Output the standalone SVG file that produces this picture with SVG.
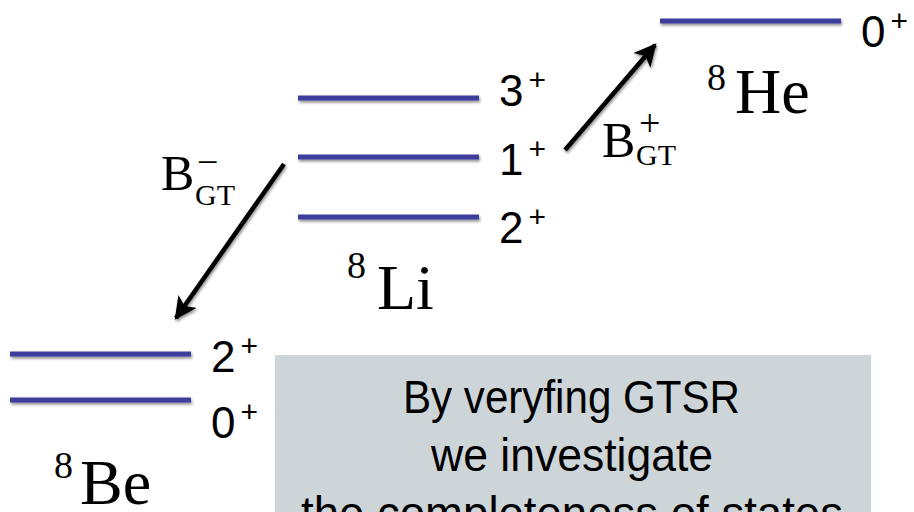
<svg xmlns="http://www.w3.org/2000/svg" width="914" height="512" viewBox="0 0 914 512">
<defs>
<filter id="sh" filterUnits="userSpaceOnUse" x="0" y="0" width="914" height="512">
<feGaussianBlur in="SourceAlpha" stdDeviation="1.5"/>
<feOffset dx="1" dy="2" result="b"/>
<feComponentTransfer><feFuncA type="linear" slope="0.45"/></feComponentTransfer>
<feMerge><feMergeNode/><feMergeNode in="SourceGraphic"/></feMerge>
</filter>
<marker id="ah" viewBox="0 0 10 10" refX="9" refY="5" markerWidth="5" markerHeight="5" orient="auto" markerUnits="strokeWidth">
<path d="M0,0 L10,5 L0,10 L2.5,5 z" fill="#000"/>
</marker>
<style>
.lvl{stroke:#3c3c9e;stroke-width:5;filter:url(#sh)}
.sp{font-family:"Liberation Sans","DejaVu Sans",sans-serif;font-size:44px;fill:#000}
.sup{font-size:30px}
.nuc{font-family:"Liberation Serif","DejaVu Serif",serif;font-size:64px;fill:#000}
.nsup{font-family:"Liberation Serif","DejaVu Serif",serif;font-size:38px;fill:#000}
.bl{font-family:"Liberation Serif","DejaVu Serif",serif;font-size:50px;fill:#000}
.bs{font-family:"Liberation Serif","DejaVu Serif",serif;font-size:30px;fill:#000}
.bp{font-family:"Liberation Serif","DejaVu Serif",serif;font-size:38px;fill:#000}
.arr{stroke:#000;stroke-width:4.5;fill:none;marker-end:url(#ah);filter:url(#sh)}
.box{fill:#cdd5d8}
.bt{font-family:"Liberation Sans","DejaVu Sans",sans-serif;font-size:46px;fill:#000}
</style>
</defs>

<g id="Li8">
<line class="lvl" x1="298" y1="98" x2="479" y2="98"/>
<line class="lvl" x1="298" y1="157" x2="479" y2="157"/>
<line class="lvl" x1="298" y1="217" x2="479" y2="217"/>
<text class="sp" x="499" y="106">3<tspan class="sup" dx="5" dy="-16">+</tspan></text>
<text class="sp" x="499" y="175">1<tspan class="sup" dx="5" dy="-16">+</tspan></text>
<text class="sp" x="499" y="243">2<tspan class="sup" dx="5" dy="-16">+</tspan></text>
<text class="nsup" x="347" y="278">8</text>
<text class="nuc" x="377" y="309">Li</text>
</g>

<g id="He8">
<line class="lvl" x1="660" y1="21" x2="841" y2="21"/>
<text class="sp" x="861" y="47">0<tspan class="sup" dx="5" dy="-16">+</tspan></text>
<text class="nsup" x="707" y="90">8</text>
<text class="nuc" x="735" y="113">He</text>
</g>

<g id="Be8">
<line class="lvl" x1="10" y1="354" x2="191" y2="354"/>
<line class="lvl" x1="10" y1="400" x2="191" y2="400"/>
<text class="sp" x="211" y="372">2<tspan class="sup" dx="5" dy="-16">+</tspan></text>
<text class="sp" x="211" y="438">0<tspan class="sup" dx="5" dy="-16">+</tspan></text>
<text class="nsup" x="54" y="478">8</text>
<text class="nuc" x="80" y="504">Be</text>
</g>

<g id="connectors">
<line class="arr" x1="284" y1="164" x2="176" y2="318"/>
<line class="arr" x1="565" y1="150" x2="655" y2="45"/>
<text class="bl" x="161" y="190">B</text>
<text class="bp" x="197" y="175">−</text>
<text class="bs" x="195" y="205">GT</text>
<text class="bl" x="602" y="157">B</text>
<text class="bp" x="639" y="136">+</text>
<text class="bs" x="636" y="165">GT</text>
</g>

<g id="note">
<rect class="box" x="275" y="355" width="596" height="157"/>
<text class="bt" x="403" y="413" textLength="337" lengthAdjust="spacingAndGlyphs">By veryfing GTSR</text>
<text class="bt" x="431" y="471" textLength="282" lengthAdjust="spacingAndGlyphs">we investigate</text>
<text class="bt" x="301" y="529" textLength="542" lengthAdjust="spacingAndGlyphs">the completeness of states</text>
</g>
</svg>
